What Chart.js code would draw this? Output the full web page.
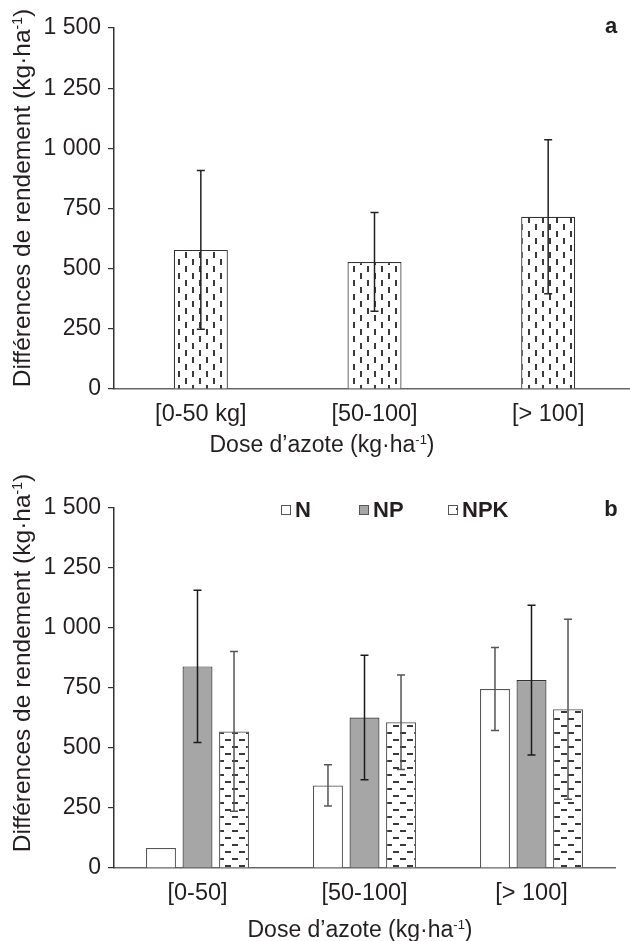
<!DOCTYPE html>
<html>
<head>
<meta charset="utf-8">
<script src="https://cdn.jsdelivr.net/npm/chart.js@4/dist/chart.umd.min.js"></script>
<style>
  html, body { margin: 0; padding: 0; background: #fff; overflow: hidden; }
  canvas { display: block; }
</style>
</head>
<body>
<canvas id="chartA" width="640" height="470"></canvas>
<canvas id="chartB" width="640" height="471"></canvas>
<script>
// panel a
const doseLabelsA = ["[0-50 kg]", "[50-100]", "[> 100]"];
const gainA = [578, 528, 716];
const errA = [330, 205, 320];

// panel b
const doseLabelsB = ["[0-50]", "[50-100]", "[> 100]"];
const seriesB = ["N", "NP", "NPK"];
const gainN = [83, 344, 746];
const gainNP = [840, 627, 783];
const gainNPK = [569, 607, 661];
const errN = [null, 86, 173];
const errNP = [317, 259, 312];
const errNPK = [333, 197, 375];

const yTickLabels = ["0", "250", "500", "750", "1 000", "1 250", "1 500"];

const FONT = "'Liberation Sans', Arial, sans-serif";
const INK = "#231f20";

// fill patterns
function makePattern(canvasId, vertical) {
  const c = document.createElement("canvas");
  c.width = 14;
  c.height = 14;
  const g = c.getContext("2d");
  g.fillStyle = "#fff";
  g.fillRect(0, 0, 14, 14);
  g.fillStyle = "#3a3a3a";
  if (vertical) {
    g.fillRect(3, 0, 2, 6);
    g.fillRect(10, 7, 2, 6);
  } else {
    g.fillRect(1, 3, 6, 2);
    g.fillRect(8, 10, 6, 2);
  }
  return document.getElementById(canvasId).getContext("2d").createPattern(c, "repeat");
}

// error bars drawn from dataset.errors
const errorBars = {
  id: "errorBars",
  afterDatasetsDraw(chart) {
    const ctx = chart.ctx;
    const y = chart.scales.y;
    chart.data.datasets.forEach((ds, i) => {
      const meta = chart.getDatasetMeta(i);
      meta.data.forEach((bar, j) => {
        const e = ds.errors[j];
        if (!e) return;
        const v = ds.data[j];
        const top = y.getPixelForValue(v + e);
        const bot = y.getPixelForValue(v - e);
        ctx.save();
        ctx.strokeStyle = ds.errorColor;
        ctx.lineWidth = 1.5;
        ctx.beginPath();
        ctx.moveTo(bar.x, top);
        ctx.lineTo(bar.x, bot);
        ctx.moveTo(bar.x - 4, top);
        ctx.lineTo(bar.x + 4, top);
        ctx.moveTo(bar.x - 4, bot);
        ctx.lineTo(bar.x + 4, bot);
        ctx.stroke();
        ctx.restore();
      });
    });
  }
};

// text with a superscript part, optionally rotated
function supText(ctx, parts, x, y, rotate, size) {
  const main = size + "px " + FONT;
  const small = Math.round(size * 0.58) + "px " + FONT;
  let total = 0;
  parts.forEach((p) => {
    ctx.font = p.sup ? small : main;
    total += ctx.measureText(p.t).width;
  });
  ctx.save();
  ctx.translate(x, y);
  if (rotate) ctx.rotate(-Math.PI / 2);
  ctx.fillStyle = INK;
  ctx.textBaseline = "alphabetic";
  ctx.textAlign = "left";
  let cx = -total / 2;
  parts.forEach((p) => {
    ctx.font = p.sup ? small : main;
    ctx.fillText(p.t, cx, p.sup ? 0 : 8);
    cx += ctx.measureText(p.t).width;
  });
  ctx.restore();
}

const yTitle = [{ t: "Différences de rendement (kg·ha" }, { t: "-1", sup: true }, { t: ")" }];
const xTitle = [{ t: "Dose d’azote (kg·ha" }, { t: "-1", sup: true }, { t: ")" }];

const titles = {
  id: "titles",
  afterDraw(chart, args, opts) {
    const ctx = chart.ctx;
    supText(ctx, yTitle, opts.yx, opts.yy, true, 24.5);
    supText(ctx, xTitle, opts.xx, opts.xy, false, 23);
    ctx.save();
    ctx.fillStyle = INK;
    ctx.font = "bold 22px " + FONT;
    ctx.textAlign = "center";
    ctx.textBaseline = "middle";
    ctx.fillText(opts.panel, opts.px, opts.py);
    ctx.restore();
  }
};

const legendB = {
  id: "legendB",
  afterDraw(chart, args, opts) {
    if (!opts.xs) return;
    const ctx = chart.ctx;
    chart.data.datasets.forEach((ds, i) => {
      const x = opts.xs[i];
      const y = opts.y;
      ctx.save();
      ctx.fillStyle = ds.backgroundColor;
      ctx.fillRect(x, y - 5, 10, 10);
      ctx.strokeStyle = "#555";
      ctx.lineWidth = 1;
      ctx.strokeRect(x + 0.5, y - 4.5, 9, 9);
      ctx.fillStyle = INK;
      ctx.font = "bold 22px " + FONT;
      ctx.textBaseline = "middle";
      ctx.fillText(ds.label, x + 14, y + 1);
      ctx.restore();
    });
  }
};

function yScale() {
  return {
    min: 0,
    max: 1500,
    ticks: {
      stepSize: 250,
      padding: 7,
      color: INK,
      font: { family: FONT, size: 23 },
      callback: (v) => yTickLabels[v / 250]
    },
    grid: { drawOnChartArea: false, drawTicks: true, tickLength: 6, color: "#333", lineWidth: 1.2 },
    border: { color: "#333", width: 1.5 },
    afterFit: (s) => { s.width = 114; }
  };
}

function xScale(h) {
  return {
    grid: { display: false, drawTicks: false },
    border: { color: "#666", width: 1.5 },
    ticks: { padding: 11, color: INK, font: { family: FONT, size: 23.5 } },
    afterFit: (s) => { s.height = h; }
  };
}

new Chart("chartA", {
  type: "bar",
  data: {
    labels: doseLabelsA,
    datasets: [
      {
        label: "a",
        data: gainA,
        errors: errA,
        errorColor: "#222",
        backgroundColor: makePattern("chartA", true),
        borderColor: "#333",
        borderWidth: 1.2,
        categoryPercentage: 0.311,
        barPercentage: 1
      }
    ]
  },
  options: {
    responsive: false,
    animation: false,
    layout: { padding: { top: 28, right: 5, left: 0, bottom: 0 } },
    scales: { x: xScale(81), y: yScale() },
    plugins: {
      legend: { display: false },
      tooltip: { enabled: false },
      titles: { yx: 22, yy: 198, xx: 322, xy: 444, panel: "a", px: 611, py: 27 }
    }
  },
  plugins: [errorBars, titles]
});

new Chart("chartB", {
  type: "bar",
  data: {
    labels: doseLabelsB,
    datasets: [
      {
        label: seriesB[0],
        data: gainN,
        errors: errN,
        errorColor: "#555",
        backgroundColor: "#ffffff",
        borderColor: "#555",
        borderWidth: 1.2
      },
      {
        label: seriesB[1],
        data: gainNP,
        errors: errNP,
        errorColor: "#1a1a1a",
        backgroundColor: "#a6a6a6",
        borderColor: "#333",
        borderWidth: 1.2
      },
      {
        label: seriesB[2],
        data: gainNPK,
        errors: errNPK,
        errorColor: "#555",
        backgroundColor: makePattern("chartB", false),
        borderColor: "#555",
        borderWidth: 1.2
      }
    ]
  },
  options: {
    responsive: false,
    animation: false,
    layout: { padding: { top: 38, right: 25, left: 0, bottom: 0 } },
    datasets: { bar: { categoryPercentage: 0.656, barPercentage: 0.82 } },
    scales: { x: xScale(73), y: yScale() },
    plugins: {
      legend: { display: false },
      tooltip: { enabled: false },
      titles: { yx: 22, yy: 193, xx: 360, xy: 459, panel: "b", px: 611, py: 40 },
      legendB: { xs: [281, 359, 448], y: 40 }
    }
  },
  plugins: [errorBars, titles, legendB]
});
</script>
</body>
</html>
